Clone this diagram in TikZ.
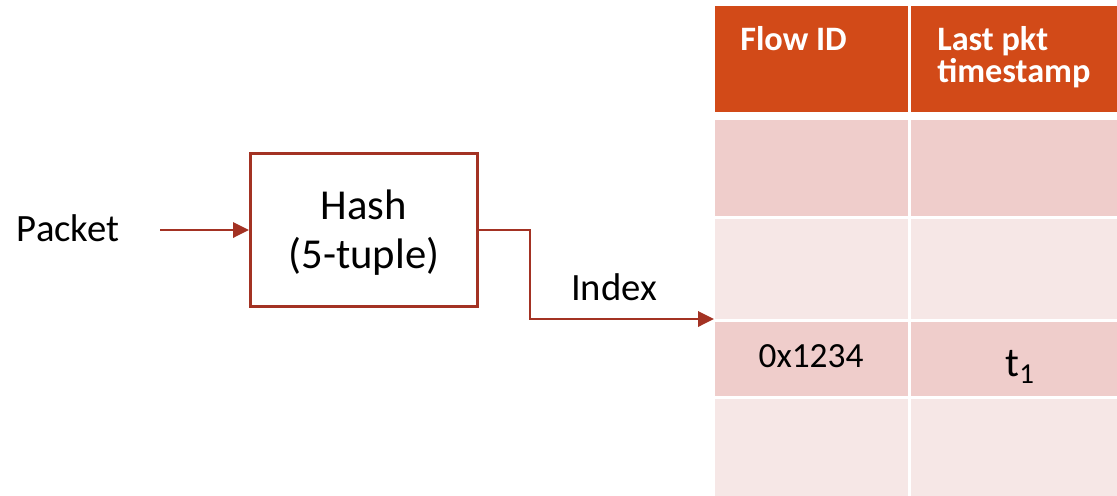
\documentclass[tikz,border=0pt]{standalone}
\usepackage{fontspec}
\setmainfont{Carlito}
\usetikzlibrary{arrows.meta}
\definecolor{hdr}{HTML}{D24A18}
\definecolor{rowA}{HTML}{EFCDCB}
\definecolor{rowB}{HTML}{F6E7E6}
\definecolor{lnk}{HTML}{A33223}
\tikzset{
  conn/.style={draw=lnk,line width=1.8pt,-{Triangle[length=12pt,width=11.5pt]}},
  lbl/.style={inner sep=0pt,anchor=base,font=\fontsize{29}{32}\selectfont},
  hlbl/.style={inner sep=0pt,anchor=base,font=\fontsize{32}{35}\selectfont},
  hdrtxt/.style={inner sep=0pt,anchor=base west,text=white,font=\fontsize{25.7}{24}\selectfont\bfseries},
}
\begin{document}
\begin{tikzpicture}[x=0.75pt,y=-0.75pt]
\useasboundingbox (0,0) rectangle (1117,496);
% table
\fill[hdr] (715,6) rectangle (908,112);
\fill[hdr] (911,6) rectangle (1117,112);
\fill[rowA] (715,120) rectangle (908,216);
\fill[rowA] (911,120) rectangle (1117,216);
\fill[rowB] (715,219) rectangle (908,319);
\fill[rowB] (911,219) rectangle (1117,319);
\fill[rowA] (715,322) rectangle (908,396);
\fill[rowA] (911,322) rectangle (1117,396);
\fill[rowB] (715,399) rectangle (908,496);
\fill[rowB] (911,399) rectangle (1117,496);
\node[hdrtxt] (h1) at (740,50) {Flow ID};
\node[hdrtxt] (h2a) at (937,50) {Last pkt};
\node[hdrtxt] (h2b) at (937,82) {timestamp};
\node[inner sep=0pt,anchor=base,font=\fontsize{26.5}{28}\selectfont] (fid) at (811,367) {0x1234};
\node[inner sep=0pt,anchor=base,font=\fontsize{31}{34}\selectfont] (ts) at (1020,376) {t\textsubscript{1}};
% hash box
\node[draw=lnk,line width=2.25pt,minimum width=227*0.75pt,minimum height=153*0.75pt,inner sep=0pt] (hash) at (364,230) {};
\node[hlbl] (hashA) at (364,219) {Hash};
\node[hlbl] (hashB) at (364,268) {(5-tuple)};
\node[lbl] (packet) at (68,241) {Packet};
\node[lbl] (index) at (614,300) {Index};
\coordinate (pin) at (160,230);
\coordinate (b1) at (530,230);
\coordinate (b2) at (530,319);
\coordinate (tip) at (714,319);
\draw[conn] (pin) -- (hash.west);
\draw[conn] (hash.east) -- (b1) -- (b2) -- (tip);
\end{tikzpicture}
\end{document}
